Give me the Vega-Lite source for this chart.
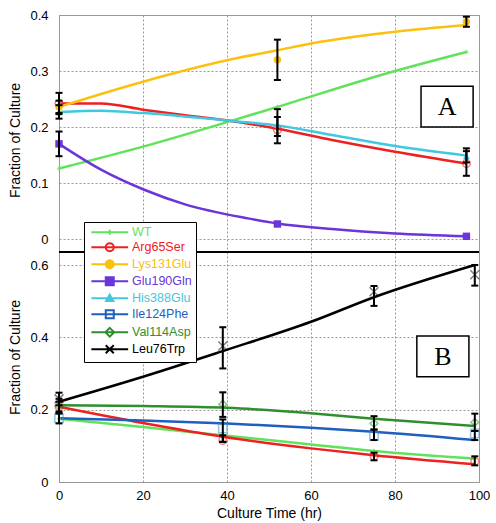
{
  "$schema": "https://vega.github.io/schema/vega-lite/v6.json",
  "autosize": {"type": "pad"},
  "padding": {"left": 8, "top": 8, "right": 5, "bottom": 1},
  "bounds": "flush",
  "spacing": 0,
  "background": "white",
  "datasets": {
    "curves": [
      {"panel": "A", "series": "WT", "t": 0, "v": 0.126},
      {"panel": "A", "series": "WT", "t": 20, "v": 0.165},
      {"panel": "A", "series": "WT", "t": 41, "v": 0.211},
      {"panel": "A", "series": "WT", "t": 52, "v": 0.236},
      {"panel": "A", "series": "WT", "t": 80, "v": 0.300},
      {"panel": "A", "series": "WT", "t": 97, "v": 0.334},
      {"panel": "A", "series": "Arg65Ser", "t": 0, "v": 0.242},
      {"panel": "A", "series": "Arg65Ser", "t": 10, "v": 0.242},
      {"panel": "A", "series": "Arg65Ser", "t": 20, "v": 0.231},
      {"panel": "A", "series": "Arg65Ser", "t": 30, "v": 0.221},
      {"panel": "A", "series": "Arg65Ser", "t": 41, "v": 0.211},
      {"panel": "A", "series": "Arg65Ser", "t": 52, "v": 0.197},
      {"panel": "A", "series": "Arg65Ser", "t": 65, "v": 0.177},
      {"panel": "A", "series": "Arg65Ser", "t": 80, "v": 0.156},
      {"panel": "A", "series": "Arg65Ser", "t": 97, "v": 0.135},
      {"panel": "A", "series": "Lys131Glu", "t": 0, "v": 0.236},
      {"panel": "A", "series": "Lys131Glu", "t": 20, "v": 0.281},
      {"panel": "A", "series": "Lys131Glu", "t": 43, "v": 0.324},
      {"panel": "A", "series": "Lys131Glu", "t": 52, "v": 0.337},
      {"panel": "A", "series": "Lys131Glu", "t": 60, "v": 0.349},
      {"panel": "A", "series": "Lys131Glu", "t": 80, "v": 0.370},
      {"panel": "A", "series": "Lys131Glu", "t": 97, "v": 0.382},
      {"panel": "A", "series": "Glu190Gln", "t": 0, "v": 0.170},
      {"panel": "A", "series": "Glu190Gln", "t": 10, "v": 0.124},
      {"panel": "A", "series": "Glu190Gln", "t": 20, "v": 0.089},
      {"panel": "A", "series": "Glu190Gln", "t": 30, "v": 0.062},
      {"panel": "A", "series": "Glu190Gln", "t": 45, "v": 0.037},
      {"panel": "A", "series": "Glu190Gln", "t": 52, "v": 0.028},
      {"panel": "A", "series": "Glu190Gln", "t": 65, "v": 0.018},
      {"panel": "A", "series": "Glu190Gln", "t": 80, "v": 0.010},
      {"panel": "A", "series": "Glu190Gln", "t": 97, "v": 0.005},
      {"panel": "A", "series": "His388Glu", "t": 0, "v": 0.227},
      {"panel": "A", "series": "His388Glu", "t": 10, "v": 0.229},
      {"panel": "A", "series": "His388Glu", "t": 20, "v": 0.225},
      {"panel": "A", "series": "His388Glu", "t": 30, "v": 0.219},
      {"panel": "A", "series": "His388Glu", "t": 41, "v": 0.211},
      {"panel": "A", "series": "His388Glu", "t": 52, "v": 0.203},
      {"panel": "A", "series": "His388Glu", "t": 65, "v": 0.186},
      {"panel": "A", "series": "His388Glu", "t": 80, "v": 0.166},
      {"panel": "A", "series": "His388Glu", "t": 97, "v": 0.149},
      {"panel": "B", "series": "WT", "t": 0, "v": 0.175},
      {"panel": "B", "series": "WT", "t": 20, "v": 0.152},
      {"panel": "B", "series": "WT", "t": 39, "v": 0.129},
      {"panel": "B", "series": "WT", "t": 60, "v": 0.104},
      {"panel": "B", "series": "WT", "t": 75, "v": 0.086},
      {"panel": "B", "series": "WT", "t": 99, "v": 0.065},
      {"panel": "B", "series": "Arg65Ser", "t": 0, "v": 0.208},
      {"panel": "B", "series": "Arg65Ser", "t": 20, "v": 0.163},
      {"panel": "B", "series": "Arg65Ser", "t": 39, "v": 0.125},
      {"panel": "B", "series": "Arg65Ser", "t": 60, "v": 0.093},
      {"panel": "B", "series": "Arg65Ser", "t": 75, "v": 0.074},
      {"panel": "B", "series": "Arg65Ser", "t": 99, "v": 0.049},
      {"panel": "B", "series": "Ile124Phe", "t": 0, "v": 0.176},
      {"panel": "B", "series": "Ile124Phe", "t": 20, "v": 0.170},
      {"panel": "B", "series": "Ile124Phe", "t": 40, "v": 0.162},
      {"panel": "B", "series": "Ile124Phe", "t": 60, "v": 0.150},
      {"panel": "B", "series": "Ile124Phe", "t": 75, "v": 0.139},
      {"panel": "B", "series": "Ile124Phe", "t": 99, "v": 0.116},
      {"panel": "B", "series": "Val114Asp", "t": 0, "v": 0.212},
      {"panel": "B", "series": "Val114Asp", "t": 20, "v": 0.210},
      {"panel": "B", "series": "Val114Asp", "t": 40, "v": 0.205},
      {"panel": "B", "series": "Val114Asp", "t": 60, "v": 0.190},
      {"panel": "B", "series": "Val114Asp", "t": 75, "v": 0.175},
      {"panel": "B", "series": "Val114Asp", "t": 99, "v": 0.155},
      {"panel": "B", "series": "Leu76Trp", "t": 0, "v": 0.222},
      {"panel": "B", "series": "Leu76Trp", "t": 20, "v": 0.291},
      {"panel": "B", "series": "Leu76Trp", "t": 39, "v": 0.362},
      {"panel": "B", "series": "Leu76Trp", "t": 60, "v": 0.443},
      {"panel": "B", "series": "Leu76Trp", "t": 75, "v": 0.511},
      {"panel": "B", "series": "Leu76Trp", "t": 99, "v": 0.600}
    ],
    "points": [
      {"panel": "A", "series": "WT", "t": 0, "v": 0.126, "lo": null, "hi": null},
      {"panel": "A", "series": "WT", "t": 52, "v": 0.236, "lo": null, "hi": null},
      {"panel": "A", "series": "WT", "t": 97, "v": 0.334, "lo": null, "hi": null},
      {"panel": "A", "series": "Arg65Ser", "t": 0, "v": 0.242, "lo": 0.223, "hi": 0.261},
      {"panel": "A", "series": "Arg65Ser", "t": 52, "v": 0.195, "lo": 0.171, "hi": 0.218},
      {"panel": "A", "series": "Arg65Ser", "t": 97, "v": 0.135, "lo": 0.113, "hi": 0.157},
      {"panel": "A", "series": "Lys131Glu", "t": 0, "v": 0.236, "lo": 0.225, "hi": 0.247},
      {"panel": "A", "series": "Lys131Glu", "t": 52, "v": 0.320, "lo": 0.284, "hi": 0.356},
      {"panel": "A", "series": "Lys131Glu", "t": 97, "v": 0.388, "lo": 0.379, "hi": 0.397},
      {"panel": "A", "series": "Glu190Gln", "t": 0, "v": 0.170, "lo": 0.148, "hi": 0.192},
      {"panel": "A", "series": "Glu190Gln", "t": 52, "v": 0.027, "lo": null, "hi": null},
      {"panel": "A", "series": "Glu190Gln", "t": 97, "v": 0.005, "lo": null, "hi": null},
      {"panel": "A", "series": "His388Glu", "t": 0, "v": 0.227, "lo": 0.215, "hi": 0.239},
      {"panel": "A", "series": "His388Glu", "t": 52, "v": 0.204, "lo": 0.184, "hi": 0.232},
      {"panel": "A", "series": "His388Glu", "t": 97, "v": 0.148, "lo": 0.137, "hi": 0.162},
      {"panel": "B", "series": "WT", "t": 0, "v": 0.175, "lo": null, "hi": null},
      {"panel": "B", "series": "WT", "t": 39, "v": 0.129, "lo": null, "hi": null},
      {"panel": "B", "series": "WT", "t": 75, "v": 0.086, "lo": null, "hi": null},
      {"panel": "B", "series": "WT", "t": 99, "v": 0.065, "lo": null, "hi": null},
      {"panel": "B", "series": "Arg65Ser", "t": 0, "v": 0.208, "lo": 0.195, "hi": 0.222},
      {"panel": "B", "series": "Arg65Ser", "t": 39, "v": 0.115, "lo": 0.111, "hi": 0.129},
      {"panel": "B", "series": "Arg65Ser", "t": 75, "v": 0.071, "lo": 0.060, "hi": 0.081},
      {"panel": "B", "series": "Arg65Ser", "t": 99, "v": 0.057, "lo": 0.046, "hi": 0.071},
      {"panel": "B", "series": "Ile124Phe", "t": 0, "v": 0.176, "lo": 0.162, "hi": 0.190},
      {"panel": "B", "series": "Ile124Phe", "t": 39, "v": 0.148, "lo": 0.111, "hi": 0.173},
      {"panel": "B", "series": "Ile124Phe", "t": 75, "v": 0.127, "lo": 0.116, "hi": 0.145},
      {"panel": "B", "series": "Ile124Phe", "t": 99, "v": 0.134, "lo": 0.116, "hi": 0.141},
      {"panel": "B", "series": "Val114Asp", "t": 0, "v": 0.210, "lo": 0.190, "hi": 0.230},
      {"panel": "B", "series": "Val114Asp", "t": 39, "v": 0.215, "lo": 0.180, "hi": 0.248},
      {"panel": "B", "series": "Val114Asp", "t": 75, "v": 0.162, "lo": 0.145, "hi": 0.182},
      {"panel": "B", "series": "Val114Asp", "t": 99, "v": 0.165, "lo": 0.141, "hi": 0.189},
      {"panel": "B", "series": "Leu76Trp", "t": 0, "v": 0.230, "lo": 0.212, "hi": 0.247},
      {"panel": "B", "series": "Leu76Trp", "t": 39, "v": 0.376, "lo": 0.314, "hi": 0.428},
      {"panel": "B", "series": "Leu76Trp", "t": 75, "v": 0.526, "lo": 0.487, "hi": 0.542},
      {"panel": "B", "series": "Leu76Trp", "t": 99, "v": 0.573, "lo": 0.543, "hi": 0.600}
    ],
    "boxes": [
      {"panel": "A", "label": "A", "x1": 86.2, "x2": 98.6, "y1": 0.200, "y2": 0.273, "tx": 92.4, "ty": 0.235},
      {"panel": "B", "label": "B", "x1": 85.2, "x2": 97.6, "y1": 0.291, "y2": 0.404, "tx": 91.4, "ty": 0.345}
    ],
    "separator": [
      {"v": 0.636}
    ]
  },
  "config": {
    "font": "Liberation Sans",
    "view": {"stroke": "#999999", "strokeWidth": 1},
    "axis": {
      "labelFont": "Liberation Sans", "labelFontSize": 13, "labelColor": "#000000",
      "titleFont": "Liberation Sans", "titleFontSize": 14, "titleFontWeight": "normal", "titleColor": "#000000",
      "ticks": false, "domainColor": "#999999", "gridColor": "#999999", "gridDash": [2, 2], "gridOpacity": 1, "gridWidth": 1,
      "labelFlush": false
    }
  },
  "vconcat": [
    {
      "width": 420, "height": 237,
      "layer": [
        {
          "data": {"name": "curves"},
          "transform": [{"filter": "datum.panel == 'A'"}],
          "mark": {"type": "line", "interpolate": "monotone", "strokeWidth": 2.5},
          "encoding": {
            "x": {"field": "t", "type": "quantitative", "scale": {"domain": [0, 100], "nice": false},
                  "axis": {"orient": "bottom", "labels": false, "domain": false, "grid": true, "values": [0, 20, 40, 60, 80, 100], "title": null}},
            "y": {"field": "v", "type": "quantitative", "scale": {"domain": [-0.023, 0.4], "nice": false, "zero": false},
                  "axis": {"values": [0, 0.1, 0.2, 0.3, 0.4], "format": "~g", "title": "Fraction of Culture", "titleY": 125, "labelPadding": 11, "titlePadding": 7, "grid": true}},
            "color": {
              "field": "series", "type": "nominal",
              "scale": {
                "domain": ["WT", "Arg65Ser", "Lys131Glu", "Glu190Gln", "His388Glu", "Ile124Phe", "Val114Asp", "Leu76Trp"],
                "range": ["#5fe35a", "#ee2020", "#fcc010", "#6a35d9", "#40c8e0", "#1f5fbf", "#2f8f2f", "#000000"]
              },
              "legend": {
                "title": null, "orient": "none", "legendX": 25, "legendY": 207,
                "symbolSize": 64, "symbolStrokeWidth": 2, "symbolOffset": 15.5, "labelOffset": 16,
                "labelFont": "Liberation Sans", "labelFontSize": 12.5, "rowPadding": 0, "padding": 4,
                "strokeColor": "#000000", "fillColor": "#ffffff", "symbolOpacity": 1,
                "encode": {
                  "symbols": {
                    "update": {
                      "shape": {"signal": "datum.value == 'WT' ? 'M-4.6,0H4.6M0,-0.6V0.6' : (datum.value == 'Arg65Ser' || datum.value == 'Lys131Glu') ? 'M-4.6,0H4.6M-1,0A1,1 0 1,0 1,0A1,1 0 1,0 -1,0' : (datum.value == 'Glu190Gln' || datum.value == 'Ile124Phe') ? 'M-4.6,0H4.6M-1,-1H1V1H-1Z' : datum.value == 'His388Glu' ? 'M-4.6,0H4.6M0,-0.9L0.9,0.7H-0.9Z' : datum.value == 'Val114Asp' ? 'M-4.6,0H4.6M0,-1.1L1.1,0L0,1.1L-1.1,0Z' : 'M-4.6,0H4.6M-1,-1L1,1M-1,1L1,-1'"},
                      "stroke": {"scale": "color", "field": "value"},
                      "fill": {"scale": "color", "field": "value"},
                      "fillOpacity": {"signal": "indexof(['Lys131Glu','Glu190Gln','His388Glu'], datum.value) >= 0 ? 1 : 0"},
                      "strokeWidth": {"value": 2},
                      "opacity": {"value": 1}
                    }
                  },
                  "labels": {"update": {"fill": {"scale": "color", "field": "value"}}}
                }
              }
            }
          }
        },
        {
          "data": {"name": "points"},
          "transform": [{"filter": "datum.panel == 'A' && datum.series == 'WT'"}],
          "mark": {"type": "point", "filled": true, "shape": "cross", "size": 18, "color": "#5fe35a"},
          "encoding": {"x": {"field": "t", "type": "quantitative"}, "y": {"field": "v", "type": "quantitative"}}
        },
        {
          "data": {"name": "points"},
          "transform": [{"filter": "datum.panel == 'A' && datum.series == 'Arg65Ser'"}],
          "mark": {"type": "point", "filled": false, "shape": "circle", "size": 60, "strokeWidth": 1.5, "opacity": 0.55, "color": "#ee2020"},
          "encoding": {"x": {"field": "t", "type": "quantitative"}, "y": {"field": "v", "type": "quantitative"}}
        },
        {
          "data": {"name": "points"},
          "transform": [{"filter": "datum.panel == 'A' && datum.series == 'Lys131Glu'"}],
          "mark": {"type": "point", "filled": true, "shape": "circle", "size": 55, "opacity": 1, "color": "#fcc010"},
          "encoding": {"x": {"field": "t", "type": "quantitative"}, "y": {"field": "v", "type": "quantitative"}}
        },
        {
          "data": {"name": "points"},
          "transform": [{"filter": "datum.panel == 'A' && datum.series == 'Glu190Gln'"}],
          "mark": {"type": "point", "filled": true, "shape": "square", "size": 55, "opacity": 1, "color": "#6a35d9"},
          "encoding": {"x": {"field": "t", "type": "quantitative"}, "y": {"field": "v", "type": "quantitative"}}
        },
        {
          "data": {"name": "points"},
          "transform": [{"filter": "datum.panel == 'A' && datum.series == 'His388Glu'"}],
          "mark": {"type": "point", "filled": true, "shape": "triangle-up", "size": 50, "opacity": 1, "color": "#40c8e0"},
          "encoding": {"x": {"field": "t", "type": "quantitative"}, "y": {"field": "v", "type": "quantitative"}}
        },
        {
          "data": {"name": "points"},
          "transform": [{"filter": "datum.panel == 'A' && isValid(datum.lo)"}],
          "mark": {"type": "rule", "color": "#000000", "strokeWidth": 2},
          "encoding": {"x": {"field": "t", "type": "quantitative"}, "y": {"field": "lo", "type": "quantitative"}, "y2": {"field": "hi"}}
        },
        {
          "data": {"name": "points"},
          "transform": [{"filter": "datum.panel == 'A' && isValid(datum.lo)"}],
          "mark": {"type": "tick", "orient": "horizontal", "color": "#000000", "size": 7, "thickness": 2, "opacity": 1},
          "encoding": {"x": {"field": "t", "type": "quantitative"}, "y": {"field": "lo", "type": "quantitative"}}
        },
        {
          "data": {"name": "points"},
          "transform": [{"filter": "datum.panel == 'A' && isValid(datum.lo)"}],
          "mark": {"type": "tick", "orient": "horizontal", "color": "#000000", "size": 7, "thickness": 2, "opacity": 1},
          "encoding": {"x": {"field": "t", "type": "quantitative"}, "y": {"field": "hi", "type": "quantitative"}}
        },
        {
          "data": {"name": "boxes"},
          "transform": [{"filter": "datum.panel == 'A'"}],
          "mark": {"type": "rect", "fill": "#ffffff", "stroke": "#000000", "strokeWidth": 1.5},
          "encoding": {
            "x": {"field": "x1", "type": "quantitative"},
            "x2": {"field": "x2"},
            "y": {"field": "y1", "type": "quantitative"},
            "y2": {"field": "y2"}
          }
        },
        {
          "data": {"name": "boxes"},
          "transform": [{"filter": "datum.panel == 'A'"}],
          "mark": {"type": "text", "font": "Liberation Serif", "fontSize": 26, "align": "center", "baseline": "middle", "color": "#000000"},
          "encoding": {
            "x": {"field": "tx", "type": "quantitative"},
            "y": {"field": "ty", "type": "quantitative"},
            "text": {"field": "label"}
          }
        }
      ]
    },
    {
      "width": 420, "height": 230,
      "layer": [
        {
          "data": {"name": "curves"},
          "transform": [{"filter": "datum.panel == 'B'"}],
          "mark": {"type": "line", "interpolate": "monotone", "strokeWidth": 2.5},
          "encoding": {
            "x": {"field": "t", "type": "quantitative", "scale": {"domain": [0, 100], "nice": false},
                  "axis": {"orient": "bottom", "values": [0, 20, 40, 60, 80, 100], "title": "Culture Time (hr)", "labelPadding": 7, "titlePadding": 4, "grid": true}},
            "y": {"field": "v", "type": "quantitative", "scale": {"domain": [0, 0.636], "nice": false, "zero": false},
                  "axis": {"values": [0, 0.1, 0.2, 0.3, 0.4, 0.5, 0.6], "format": "~g",
                           "title": "Fraction of Culture", "titleY": 105, "labelPadding": 11, "titlePadding": 7, "grid": true}},
            "color": {"field": "series", "type": "nominal", "legend": null}
          }
        },
        {
          "data": {"name": "separator"},
          "mark": {"type": "rule", "color": "#000000", "strokeWidth": 2},
          "encoding": {"y": {"field": "v", "type": "quantitative"}}
        },
        {
          "data": {"name": "points"},
          "transform": [{"filter": "datum.panel == 'B' && datum.series == 'WT'"}],
          "mark": {"type": "point", "filled": true, "shape": "cross", "size": 18, "color": "#5fe35a"},
          "encoding": {"x": {"field": "t", "type": "quantitative"}, "y": {"field": "v", "type": "quantitative"}}
        },
        {
          "data": {"name": "points"},
          "transform": [{"filter": "datum.panel == 'B' && datum.series == 'Arg65Ser'"}],
          "mark": {"type": "point", "filled": false, "shape": "circle", "size": 60, "strokeWidth": 1.5, "opacity": 0.55, "color": "#ee2020"},
          "encoding": {"x": {"field": "t", "type": "quantitative"}, "y": {"field": "v", "type": "quantitative"}}
        },
        {
          "data": {"name": "points"},
          "transform": [{"filter": "datum.panel == 'B' && datum.series == 'Ile124Phe'"}],
          "mark": {"type": "point", "filled": false, "shape": "square", "size": 70, "strokeWidth": 1.5, "opacity": 0.55, "color": "#3a8fd0"},
          "encoding": {"x": {"field": "t", "type": "quantitative"}, "y": {"field": "v", "type": "quantitative"}}
        },
        {
          "data": {"name": "points"},
          "transform": [{"filter": "datum.panel == 'B' && datum.series == 'Val114Asp'"}],
          "mark": {"type": "point", "filled": false, "shape": "diamond", "size": 60, "strokeWidth": 1.5, "opacity": 0.55, "color": "#2f8f2f"},
          "encoding": {"x": {"field": "t", "type": "quantitative"}, "y": {"field": "v", "type": "quantitative"}}
        },
        {
          "data": {"name": "points"},
          "transform": [{"filter": "datum.panel == 'B' && datum.series == 'Leu76Trp'"}],
          "mark": {"type": "point", "filled": false, "shape": "M-1,-1L1,1M-1,1L1,-1", "size": 80, "strokeWidth": 1.5, "opacity": 0.5, "color": "#000000"},
          "encoding": {"x": {"field": "t", "type": "quantitative"}, "y": {"field": "v", "type": "quantitative"}}
        },
        {
          "data": {"name": "points"},
          "transform": [{"filter": "datum.panel == 'B' && isValid(datum.lo)"}],
          "mark": {"type": "rule", "color": "#000000", "strokeWidth": 2},
          "encoding": {"x": {"field": "t", "type": "quantitative"}, "y": {"field": "lo", "type": "quantitative"}, "y2": {"field": "hi"}}
        },
        {
          "data": {"name": "points"},
          "transform": [{"filter": "datum.panel == 'B' && isValid(datum.lo)"}],
          "mark": {"type": "tick", "orient": "horizontal", "color": "#000000", "size": 7, "thickness": 2, "opacity": 1},
          "encoding": {"x": {"field": "t", "type": "quantitative"}, "y": {"field": "lo", "type": "quantitative"}}
        },
        {
          "data": {"name": "points"},
          "transform": [{"filter": "datum.panel == 'B' && isValid(datum.lo)"}],
          "mark": {"type": "tick", "orient": "horizontal", "color": "#000000", "size": 7, "thickness": 2, "opacity": 1},
          "encoding": {"x": {"field": "t", "type": "quantitative"}, "y": {"field": "hi", "type": "quantitative"}}
        },
        {
          "data": {"name": "boxes"},
          "transform": [{"filter": "datum.panel == 'B'"}],
          "mark": {"type": "rect", "fill": "#ffffff", "stroke": "#000000", "strokeWidth": 1.5},
          "encoding": {
            "x": {"field": "x1", "type": "quantitative"},
            "x2": {"field": "x2"},
            "y": {"field": "y1", "type": "quantitative"},
            "y2": {"field": "y2"}
          }
        },
        {
          "data": {"name": "boxes"},
          "transform": [{"filter": "datum.panel == 'B'"}],
          "mark": {"type": "text", "font": "Liberation Serif", "fontSize": 26, "align": "center", "baseline": "middle", "color": "#000000"},
          "encoding": {
            "x": {"field": "tx", "type": "quantitative"},
            "y": {"field": "ty", "type": "quantitative"},
            "text": {"field": "label"}
          }
        }
      ]
    }
  ]
}
